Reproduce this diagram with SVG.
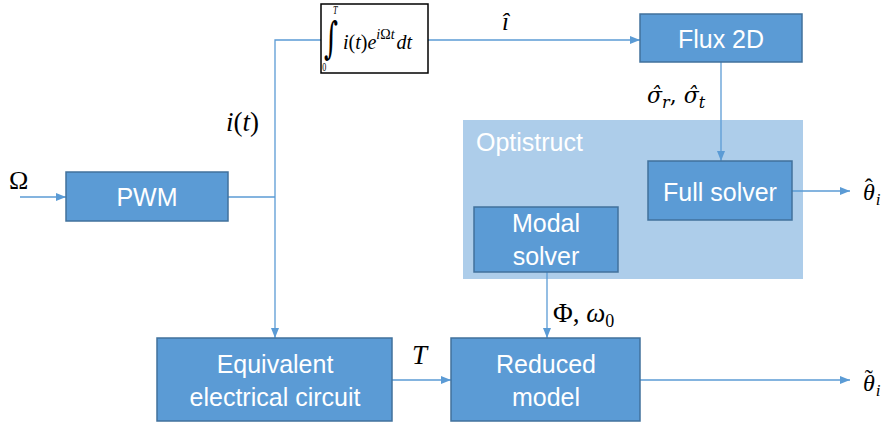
<svg xmlns="http://www.w3.org/2000/svg" width="889" height="425" viewBox="0 0 889 425">
<style>
.box{fill:#5B9BD5;stroke:#41719C;stroke-width:1.5}
.lbl{font-family:"Liberation Sans",Arial,sans-serif;font-size:25px;fill:#fff;text-anchor:middle}
.ln{stroke:#5B9BD5;stroke-width:1.3;fill:none}
.m{font-family:"Liberation Serif","DejaVu Serif",serif;font-style:italic;fill:#000}
.r{font-family:"Liberation Serif","DejaVu Serif",serif;fill:#000}
.dj{font-family:"DejaVu Serif",serif;font-style:italic;fill:#000}
</style>
<defs>
<marker id="ah" viewBox="0 0 10 10" refX="10" refY="5" markerWidth="10" markerHeight="10" markerUnits="userSpaceOnUse" orient="auto">
<path d="M0,1 L10,5 L0,9 Z" fill="#5B9BD5"/>
</marker>
</defs>
<rect id="optistruct-bg" x="463" y="120" width="340" height="159" fill="#ADCDEA"/>
<text x="476" y="151" font-family="Liberation Sans,Arial,sans-serif" font-size="25" fill="#fff">Optistruct</text>
<g id="connectors">
<line class="ln" x1="20" y1="197" x2="66" y2="197" marker-end="url(#ah)"/>
<line class="ln" x1="228" y1="197" x2="275" y2="197"/>
<polyline class="ln" points="321,40 275,40 275,338" marker-end="url(#ah)"/>
<line class="ln" x1="428" y1="40" x2="640" y2="40" marker-end="url(#ah)"/>
<line class="ln" x1="721" y1="62" x2="721" y2="161" marker-end="url(#ah)"/>
<line class="ln" x1="792" y1="191" x2="850" y2="191" marker-end="url(#ah)"/>
<line class="ln" x1="547" y1="272" x2="547" y2="338" marker-end="url(#ah)"/>
<line class="ln" x1="392" y1="380" x2="451" y2="380" marker-end="url(#ah)"/>
<line class="ln" x1="640" y1="380" x2="850" y2="380" marker-end="url(#ah)"/>
</g>
<g id="pwm">
<rect class="box" x="66" y="172" width="162" height="49"/>
<text class="lbl" x="147" y="206">PWM</text>
</g>
<g id="integral">
<rect x="321" y="4" width="107" height="69" fill="#fff" stroke="#000" stroke-width="1.5"/>
<text x="0" y="0" font-family="DejaVu Serif,serif" font-size="30" fill="#000" transform="translate(324,53) scale(0.9,1.45)">∫<tspan x="10" y="-27" font-size="9" font-style="italic" font-family="Liberation Serif,serif">T</tspan><tspan x="-2" y="12.4" font-size="9" font-family="Liberation Serif,serif">0</tspan></text>
<text class="m" x="343" y="49" font-size="20">i<tspan font-style="normal">(</tspan>t<tspan font-style="normal">)</tspan>e<tspan dy="-10" font-size="14">i<tspan font-style="normal">Ω</tspan>t</tspan><tspan dy="10" dx="2">dt</tspan></text>
</g>
<g id="flux2d">
<rect class="box" x="640" y="14" width="162" height="48"/>
<text class="lbl" x="721" y="48">Flux 2D</text>
</g>
<g id="full-solver">
<rect class="box" x="648" y="161" width="144" height="59"/>
<text class="lbl" x="720" y="201">Full solver</text>
</g>
<g id="modal-solver">
<rect class="box" x="474" y="207" width="144" height="65"/>
<text class="lbl" x="546" y="232">Modal</text>
<text class="lbl" x="546" y="265">solver</text>
</g>
<g id="equivalent-circuit">
<rect class="box" x="157" y="338" width="235" height="83"/>
<text class="lbl" x="275" y="373">Equivalent</text>
<text class="lbl" x="275" y="406">electrical circuit</text>
</g>
<g id="reduced-model">
<rect class="box" x="451" y="338" width="189" height="83"/>
<text class="lbl" x="546" y="373">Reduced</text>
<text class="lbl" x="546" y="406">model</text>
</g>
<g id="labels">
<text class="r" x="9" y="189" font-size="26">Ω</text>
<text class="m" x="226" y="131" font-size="27">i<tspan font-style="normal">(</tspan>t<tspan font-style="normal">)</tspan></text>
<text class="m" x="502" y="30" font-size="25">î</text>
<text class="dj" x="647" y="103" font-size="22">σ̂<tspan dy="5" font-size="16">r</tspan><tspan dy="-5" font-style="normal">, </tspan>σ̂<tspan dy="5" font-size="16">t</tspan></text>
<text class="m" x="863" y="200" font-size="24">θ<tspan dx="-10" dy="-5" font-style="normal">ˆ</tspan><tspan dx="3" dy="10" font-size="17">i</tspan></text>
<text class="m" x="863" y="391" font-size="24">θ<tspan dx="-10" dy="-5" font-style="normal">˜</tspan><tspan dx="3" dy="10" font-size="17">i</tspan></text>
<text class="r" x="553" y="322" font-size="27">Φ, <tspan font-style="italic">ω</tspan><tspan dy="5" font-size="18">0</tspan></text>
<text class="m" x="412" y="364" font-size="27">T</text>
</g>
</svg>
